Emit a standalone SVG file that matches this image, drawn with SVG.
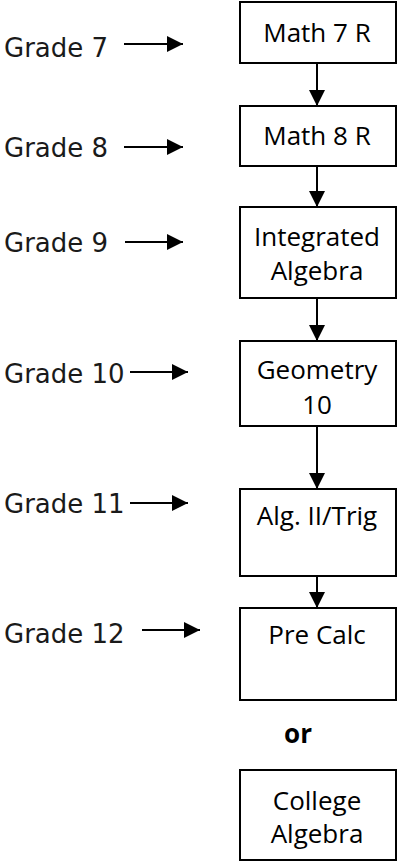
<svg xmlns="http://www.w3.org/2000/svg" width="397" height="862" viewBox="0 0 397 862">
<style>
.box{fill:#fff;stroke:#000;stroke-width:2}
.lbl{font-family:"Open Sans","Noto Sans",sans-serif;font-size:26px;fill:#000;text-anchor:middle}
.grade{font-family:"DejaVu Sans","Liberation Sans",sans-serif;font-size:26px;fill:#1a1a1a}
.conn{stroke:#000;stroke-width:2;fill:none}
</style>
<defs>
<marker id="ah" markerUnits="userSpaceOnUse" markerWidth="16" markerHeight="16" refX="16" refY="8" orient="auto">
<path d="M0,0 L16,8 L0,16 Z" fill="#000"/>
</marker>
</defs>
<rect width="397" height="862" fill="#fff"/>
<g id="connectors">
<line class="conn" x1="317" y1="63" x2="317" y2="106" marker-end="url(#ah)"/>
<line class="conn" x1="317" y1="166" x2="317" y2="207" marker-end="url(#ah)"/>
<line class="conn" x1="317" y1="298" x2="317" y2="341" marker-end="url(#ah)"/>
<line class="conn" x1="317" y1="426" x2="317" y2="489" marker-end="url(#ah)"/>
<line class="conn" x1="317" y1="576" x2="317" y2="608" marker-end="url(#ah)"/>
<line class="conn" x1="124" y1="44" x2="183" y2="44" marker-end="url(#ah)"/>
<line class="conn" x1="124" y1="147" x2="183" y2="147" marker-end="url(#ah)"/>
<line class="conn" x1="125" y1="242" x2="183" y2="242" marker-end="url(#ah)"/>
<line class="conn" x1="130" y1="372" x2="188" y2="372" marker-end="url(#ah)"/>
<line class="conn" x1="130" y1="503" x2="188" y2="503" marker-end="url(#ah)"/>
<line class="conn" x1="142" y1="630" x2="200" y2="630" marker-end="url(#ah)"/>
</g>
<g id="grades">
<text class="grade" x="4" y="57">Grade 7</text>
<text class="grade" x="4" y="157">Grade 8</text>
<text class="grade" x="4" y="252">Grade 9</text>
<text class="grade" x="4" y="383">Grade 10</text>
<text class="grade" x="4" y="513">Grade 11</text>
<text class="grade" x="4" y="643">Grade 12</text>
</g>
<g id="math7">
<rect class="box" x="240" y="2" width="156" height="61"/>
<text class="lbl" x="317" y="42">Math 7 R</text>
</g>
<g id="math8">
<rect class="box" x="240" y="106" width="156" height="60"/>
<text class="lbl" x="317" y="145">Math 8 R</text>
</g>
<g id="intalg">
<rect class="box" x="240" y="207" width="156" height="91"/>
<text class="lbl" x="317" y="246">Integrated</text>
<text class="lbl" x="317" y="280">Algebra</text>
</g>
<g id="geometry">
<rect class="box" x="240" y="341" width="156" height="85"/>
<text class="lbl" x="317" y="379">Geometry</text>
<text class="lbl" x="317" y="414">10</text>
</g>
<g id="alg2">
<rect class="box" x="240" y="489" width="156" height="87"/>
<text class="lbl" x="317" y="525">Alg. II/Trig</text>
</g>
<g id="precalc">
<rect class="box" x="240" y="608" width="156" height="92"/>
<text class="lbl" x="317" y="644">Pre Calc</text>
</g>
<g id="or">
<text class="lbl" x="298" y="743" font-weight="bold">or</text>
</g>
<g id="collegealg">
<rect class="box" x="240" y="770" width="156" height="90"/>
<text class="lbl" x="317" y="810">College</text>
<text class="lbl" x="317" y="843">Algebra</text>
</g>
</svg>
